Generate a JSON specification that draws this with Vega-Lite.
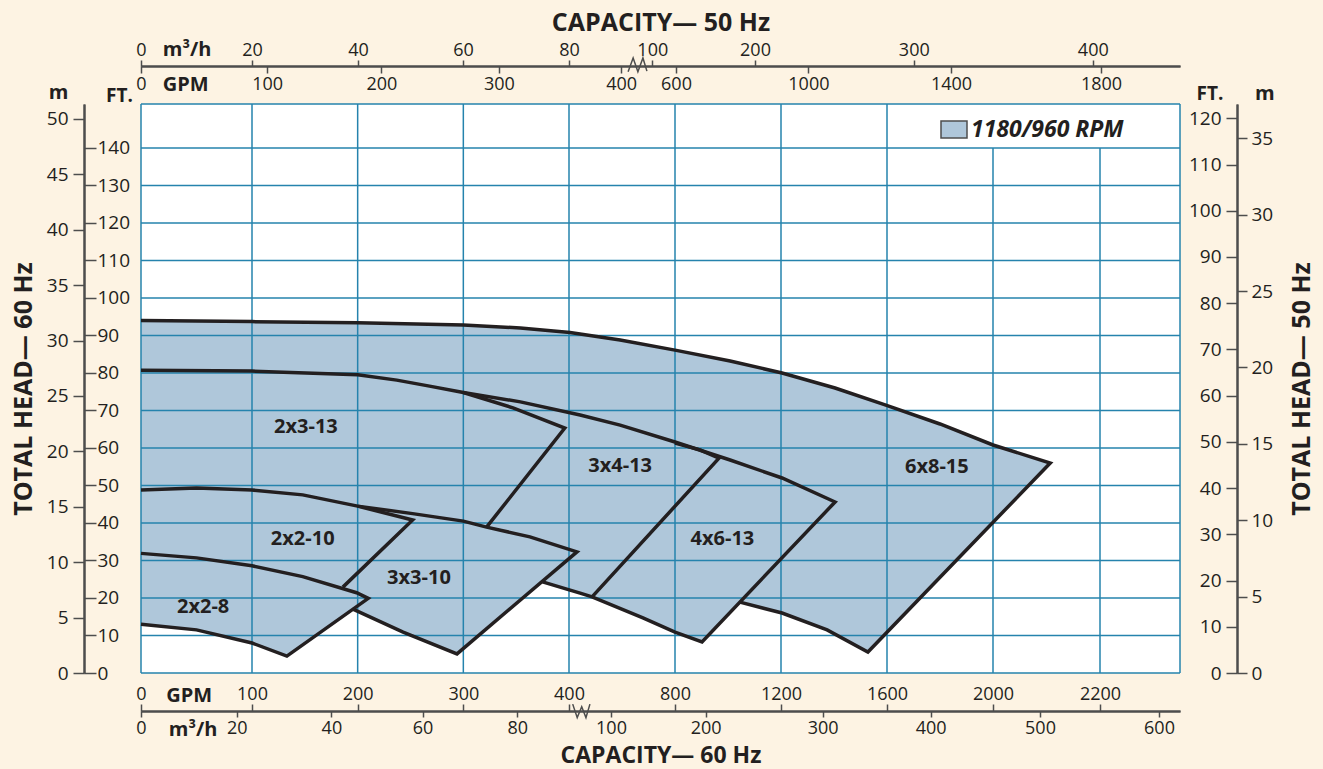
{
"$schema": "https://vega.github.io/schema/vega-lite/v6.json",
"width": 1039, "height": 569,
"autosize": {"type": "none"},
"padding": {"left": 141, "top": 104, "right": 143, "bottom": 96},
"background": "#fdf3e3",
"config": {
 "font": "Open Sans",
 "view": {"stroke": null, "fill": "white"},
 "axis": {"grid": false, "labelFlush": false, "labelOverlap": false, "labelFontSize": 18, "labelColor": "#231f20", "labelFont": "Open Sans", "domainColor": "#4d4d4d", "domainWidth": 2, "tickColor": "#4d4d4d", "tickWidth": 1.5, "titleColor": "#231f20", "titleFontWeight": "bold", "titleFontSize": 20, "titleFont": "Open Sans"}
},
"datasets": {
 "dummy": [{"a": 0, "b": 0}],
 "fills": [
  {"pump":"6x8-15","rpm":"1180/960 RPM","gpm":0,"top":94.0,"bot":62.1},
  {"pump":"6x8-15","rpm":"1180/960 RPM","gpm":100,"top":93.7,"bot":54.1},
  {"pump":"6x8-15","rpm":"1180/960 RPM","gpm":200,"top":93.4,"bot":46.5},
  {"pump":"6x8-15","rpm":"1180/960 RPM","gpm":300,"top":92.8,"bot":38.9},
  {"pump":"6x8-15","rpm":"1180/960 RPM","gpm":354,"top":92.0,"bot":34.8},
  {"pump":"6x8-15","rpm":"1180/960 RPM","gpm":404,"top":90.8,"bot":31.2},
  {"pump":"6x8-15","rpm":"1180/960 RPM","gpm":593,"top":88.8,"bot":27.6},
  {"pump":"6x8-15","rpm":"1180/960 RPM","gpm":800,"top":86.1,"bot":23.6},
  {"pump":"6x8-15","rpm":"1180/960 RPM","gpm":1008,"top":83.2,"bot":19.7},
  {"pump":"6x8-15","rpm":"1180/960 RPM","gpm":1045,"top":82.6,"bot":18.9},
  {"pump":"6x8-15","rpm":"1180/960 RPM","gpm":1204,"top":80.0,"bot":16.0},
  {"pump":"6x8-15","rpm":"1180/960 RPM","gpm":1374,"top":76.6,"bot":11.5},
  {"pump":"6x8-15","rpm":"1180/960 RPM","gpm":1404,"top":76.0,"bot":10.3},
  {"pump":"6x8-15","rpm":"1180/960 RPM","gpm":1528,"top":73.0,"bot":5.6},
  {"pump":"6x8-15","rpm":"1180/960 RPM","gpm":1593,"top":71.5,"bot":10.3},
  {"pump":"6x8-15","rpm":"1180/960 RPM","gpm":1800,"top":66.4,"bot":25.6},
  {"pump":"6x8-15","rpm":"1180/960 RPM","gpm":2000,"top":60.8,"bot":40.2},
  {"pump":"6x8-15","rpm":"1180/960 RPM","gpm":2107,"top":56.0,"bot":56.0},
  {"pump":"4x6-13","rpm":"1180/960 RPM","gpm":268,"top":76.5,"bot":43.5},
  {"pump":"4x6-13","rpm":"1180/960 RPM","gpm":300,"top":74.8,"bot":37.9},
  {"pump":"4x6-13","rpm":"1180/960 RPM","gpm":354,"top":72.3,"bot":28.2},
  {"pump":"4x6-13","rpm":"1180/960 RPM","gpm":375,"top":70.9,"bot":24.3},
  {"pump":"4x6-13","rpm":"1180/960 RPM","gpm":442,"top":68.8,"bot":21.3},
  {"pump":"4x6-13","rpm":"1180/960 RPM","gpm":487,"top":68.0,"bot":20.3},
  {"pump":"4x6-13","rpm":"1180/960 RPM","gpm":593,"top":66.1,"bot":17.2},
  {"pump":"4x6-13","rpm":"1180/960 RPM","gpm":679,"top":64.2,"bot":14.7},
  {"pump":"4x6-13","rpm":"1180/960 RPM","gpm":800,"top":61.6,"bot":10.9},
  {"pump":"4x6-13","rpm":"1180/960 RPM","gpm":902,"top":59.3,"bot":8.3},
  {"pump":"4x6-13","rpm":"1180/960 RPM","gpm":1008,"top":56.8,"bot":16.1},
  {"pump":"4x6-13","rpm":"1180/960 RPM","gpm":1204,"top":52.0,"bot":30.7},
  {"pump":"4x6-13","rpm":"1180/960 RPM","gpm":1404,"top":45.6,"bot":45.6},
  {"pump":"3x4-13","rpm":"1180/960 RPM","gpm":300,"top":74.8,"bot":38.1},
  {"pump":"3x4-13","rpm":"1180/960 RPM","gpm":354,"top":72.3,"bot":28.3},
  {"pump":"3x4-13","rpm":"1180/960 RPM","gpm":375,"top":70.9,"bot":24.3},
  {"pump":"3x4-13","rpm":"1180/960 RPM","gpm":442,"top":68.8,"bot":21.3},
  {"pump":"3x4-13","rpm":"1180/960 RPM","gpm":487,"top":68.0,"bot":20.3},
  {"pump":"3x4-13","rpm":"1180/960 RPM","gpm":593,"top":66.1,"bot":28.4},
  {"pump":"3x4-13","rpm":"1180/960 RPM","gpm":800,"top":61.3,"bot":44.5},
  {"pump":"3x4-13","rpm":"1180/960 RPM","gpm":894,"top":59.5,"bot":51.8},
  {"pump":"3x4-13","rpm":"1180/960 RPM","gpm":966,"top":57.3,"bot":57.3},
  {"pump":"2x3-13","rpm":"1180/960 RPM","gpm":0,"top":80.7,"bot":48.8},
  {"pump":"2x3-13","rpm":"1180/960 RPM","gpm":50,"top":80.6,"bot":49.3},
  {"pump":"2x3-13","rpm":"1180/960 RPM","gpm":100,"top":80.5,"bot":48.8},
  {"pump":"2x3-13","rpm":"1180/960 RPM","gpm":148,"top":80.0,"bot":47.5},
  {"pump":"2x3-13","rpm":"1180/960 RPM","gpm":200,"top":79.5,"bot":44.5},
  {"pump":"2x3-13","rpm":"1180/960 RPM","gpm":237,"top":78.1,"bot":43.1},
  {"pump":"2x3-13","rpm":"1180/960 RPM","gpm":252,"top":77.4,"bot":42.5},
  {"pump":"2x3-13","rpm":"1180/960 RPM","gpm":268,"top":76.5,"bot":41.8},
  {"pump":"2x3-13","rpm":"1180/960 RPM","gpm":300,"top":74.8,"bot":40.5},
  {"pump":"2x3-13","rpm":"1180/960 RPM","gpm":322,"top":72.8,"bot":38.9},
  {"pump":"2x3-13","rpm":"1180/960 RPM","gpm":347,"top":70.7,"bot":47.7},
  {"pump":"2x3-13","rpm":"1180/960 RPM","gpm":396,"top":65.3,"bot":65.3},
  {"pump":"3x3-10","rpm":"1180/960 RPM","gpm":174,"top":46.0,"bot":14.1},
  {"pump":"3x3-10","rpm":"1180/960 RPM","gpm":195,"top":44.9,"bot":17.1},
  {"pump":"3x3-10","rpm":"1180/960 RPM","gpm":200,"top":44.5,"bot":16.4},
  {"pump":"3x3-10","rpm":"1180/960 RPM","gpm":243,"top":42.9,"bot":10.9},
  {"pump":"3x3-10","rpm":"1180/960 RPM","gpm":252,"top":42.5,"bot":9.8},
  {"pump":"3x3-10","rpm":"1180/960 RPM","gpm":294,"top":40.8,"bot":5.1},
  {"pump":"3x3-10","rpm":"1180/960 RPM","gpm":300,"top":40.5,"bot":6.4},
  {"pump":"3x3-10","rpm":"1180/960 RPM","gpm":322,"top":38.9,"bot":11.9},
  {"pump":"3x3-10","rpm":"1180/960 RPM","gpm":363,"top":36.3,"bot":21.6},
  {"pump":"3x3-10","rpm":"1180/960 RPM","gpm":430,"top":32.3,"bot":32.3},
  {"pump":"2x2-10","rpm":"1180/960 RPM","gpm":0,"top":48.8,"bot":31.9},
  {"pump":"2x2-10","rpm":"1180/960 RPM","gpm":50,"top":49.3,"bot":30.7},
  {"pump":"2x2-10","rpm":"1180/960 RPM","gpm":100,"top":48.8,"bot":28.6},
  {"pump":"2x2-10","rpm":"1180/960 RPM","gpm":148,"top":47.5,"bot":25.7},
  {"pump":"2x2-10","rpm":"1180/960 RPM","gpm":186,"top":45.3,"bot":22.9},
  {"pump":"2x2-10","rpm":"1180/960 RPM","gpm":200,"top":44.5,"bot":26.8},
  {"pump":"2x2-10","rpm":"1180/960 RPM","gpm":252,"top":40.8,"bot":40.8},
  {"pump":"2x2-8","rpm":"1180/960 RPM","gpm":0,"top":31.9,"bot":13.0},
  {"pump":"2x2-8","rpm":"1180/960 RPM","gpm":50,"top":30.7,"bot":11.5},
  {"pump":"2x2-8","rpm":"1180/960 RPM","gpm":100,"top":28.6,"bot":8.0},
  {"pump":"2x2-8","rpm":"1180/960 RPM","gpm":133,"top":26.6,"bot":4.5},
  {"pump":"2x2-8","rpm":"1180/960 RPM","gpm":148,"top":25.7,"bot":7.6},
  {"pump":"2x2-8","rpm":"1180/960 RPM","gpm":199,"top":21.4,"bot":17.8},
  {"pump":"2x2-8","rpm":"1180/960 RPM","gpm":210,"top":19.9,"bot":19.9}
 ],
 "outlines": [
  {"seg":"6x8-15","i":0,"gpm":0,"ft":94.0},{"seg":"6x8-15","i":1,"gpm":100,"ft":93.7},{"seg":"6x8-15","i":2,"gpm":200,"ft":93.4},{"seg":"6x8-15","i":3,"gpm":300,"ft":92.8},{"seg":"6x8-15","i":4,"gpm":354,"ft":92.0},{"seg":"6x8-15","i":5,"gpm":404,"ft":90.8},{"seg":"6x8-15","i":6,"gpm":593,"ft":88.8},{"seg":"6x8-15","i":7,"gpm":800,"ft":86.1},{"seg":"6x8-15","i":8,"gpm":1008,"ft":83.2},{"seg":"6x8-15","i":9,"gpm":1204,"ft":80.0},{"seg":"6x8-15","i":10,"gpm":1404,"ft":76.0},{"seg":"6x8-15","i":11,"gpm":1593,"ft":71.5},{"seg":"6x8-15","i":12,"gpm":1800,"ft":66.4},{"seg":"6x8-15","i":13,"gpm":2000,"ft":60.8},{"seg":"6x8-15","i":14,"gpm":2107,"ft":56.0},{"seg":"6x8-15","i":15,"gpm":1528,"ft":5.6},{"seg":"6x8-15","i":16,"gpm":1374,"ft":11.5},{"seg":"6x8-15","i":17,"gpm":1204,"ft":16.0},{"seg":"6x8-15","i":18,"gpm":1045,"ft":18.9},
  {"seg":"4x6-13","i":0,"gpm":300,"ft":74.8},{"seg":"4x6-13","i":1,"gpm":354,"ft":72.3},{"seg":"4x6-13","i":2,"gpm":442,"ft":68.8},{"seg":"4x6-13","i":3,"gpm":593,"ft":66.1},{"seg":"4x6-13","i":4,"gpm":800,"ft":61.6},{"seg":"4x6-13","i":5,"gpm":1008,"ft":56.8},{"seg":"4x6-13","i":6,"gpm":1204,"ft":52.0},{"seg":"4x6-13","i":7,"gpm":1404,"ft":45.6},{"seg":"4x6-13","i":8,"gpm":902,"ft":8.3},{"seg":"4x6-13","i":9,"gpm":800,"ft":10.9},{"seg":"4x6-13","i":10,"gpm":679,"ft":14.7},{"seg":"4x6-13","i":11,"gpm":487,"ft":20.3},{"seg":"4x6-13","i":12,"gpm":442,"ft":21.3},{"seg":"4x6-13","i":13,"gpm":375,"ft":24.3},
  {"seg":"3x4-13","i":0,"gpm":800,"ft":61.3},{"seg":"3x4-13","i":1,"gpm":894,"ft":59.5},{"seg":"3x4-13","i":2,"gpm":966,"ft":57.3},{"seg":"3x4-13","i":3,"gpm":487,"ft":20.3},
  {"seg":"2x3-13","i":0,"gpm":0,"ft":80.7},{"seg":"2x3-13","i":1,"gpm":100,"ft":80.5},{"seg":"2x3-13","i":2,"gpm":200,"ft":79.5},{"seg":"2x3-13","i":3,"gpm":237,"ft":78.1},{"seg":"2x3-13","i":4,"gpm":268,"ft":76.5},{"seg":"2x3-13","i":5,"gpm":300,"ft":74.8},{"seg":"2x3-13","i":6,"gpm":347,"ft":70.7},{"seg":"2x3-13","i":7,"gpm":396,"ft":65.3},{"seg":"2x3-13","i":8,"gpm":322,"ft":38.9},
  {"seg":"3x3-10","i":0,"gpm":0,"ft":48.8},{"seg":"3x3-10","i":1,"gpm":50,"ft":49.3},{"seg":"3x3-10","i":2,"gpm":100,"ft":48.8},{"seg":"3x3-10","i":3,"gpm":148,"ft":47.5},{"seg":"3x3-10","i":4,"gpm":200,"ft":44.5},{"seg":"3x3-10","i":5,"gpm":252,"ft":42.5},{"seg":"3x3-10","i":6,"gpm":300,"ft":40.5},{"seg":"3x3-10","i":7,"gpm":322,"ft":38.9},{"seg":"3x3-10","i":8,"gpm":363,"ft":36.3},{"seg":"3x3-10","i":9,"gpm":430,"ft":32.3},{"seg":"3x3-10","i":10,"gpm":294,"ft":5.1},{"seg":"3x3-10","i":11,"gpm":243,"ft":10.9},{"seg":"3x3-10","i":12,"gpm":195,"ft":17.1},
  {"seg":"2x2-10","i":0,"gpm":200,"ft":44.5},{"seg":"2x2-10","i":1,"gpm":252,"ft":40.8},{"seg":"2x2-10","i":2,"gpm":186,"ft":22.9},
  {"seg":"2x2-8","i":0,"gpm":0,"ft":31.9},{"seg":"2x2-8","i":1,"gpm":50,"ft":30.7},{"seg":"2x2-8","i":2,"gpm":100,"ft":28.6},{"seg":"2x2-8","i":3,"gpm":148,"ft":25.7},{"seg":"2x2-8","i":4,"gpm":199,"ft":21.4},{"seg":"2x2-8","i":5,"gpm":210,"ft":19.9},{"seg":"2x2-8","i":6,"gpm":133,"ft":4.5},{"seg":"2x2-8","i":7,"gpm":100,"ft":8.0},{"seg":"2x2-8","i":8,"gpm":50,"ft":11.5},{"seg":"2x2-8","i":9,"gpm":0,"ft":13.0}
 ],
 "zigzag": [
  {"seg":"top","i":0,"gpm":623,"ft":160.3},{"seg":"top","i":1,"gpm":642,"ft":164.0},{"seg":"top","i":2,"gpm":660,"ft":160.3},{"seg":"top","i":3,"gpm":679,"ft":164.0},{"seg":"top","i":4,"gpm":694,"ft":160.5},
  {"seg":"bottom","i":0,"gpm":414,"ft":-8.3},{"seg":"bottom","i":1,"gpm":431,"ft":-11.9},{"seg":"bottom","i":2,"gpm":448,"ft":-9.0},{"seg":"bottom","i":3,"gpm":464,"ft":-11.9},{"seg":"bottom","i":4,"gpm":479,"ft":-8.3}
 ],
 "labels": [
  {"name":"2x3-13","gpm":151,"ft":65.7},
  {"name":"3x4-13","gpm":593,"ft":55.3},
  {"name":"6x8-15","gpm":1788,"ft":55.0},
  {"name":"2x2-10","gpm":148,"ft":35.7},
  {"name":"4x6-13","gpm":979,"ft":35.7},
  {"name":"3x3-10","gpm":258,"ft":25.3},
  {"name":"2x2-8","gpm":56,"ft":17.7}
 ],
 "grid": [
  {"x1":100,"x2":100,"y1":0,"y2":151.73},{"x1":200,"x2":200,"y1":0,"y2":151.73},{"x1":300,"x2":300,"y1":0,"y2":151.73},{"x1":400,"x2":400,"y1":0,"y2":151.73},{"x1":800,"x2":800,"y1":0,"y2":151.73},{"x1":1200,"x2":1200,"y1":0,"y2":151.73},{"x1":1600,"x2":1600,"y1":0,"y2":151.73},{"x1":2000,"x2":2000,"y1":0,"y2":140},{"x1":2200,"x2":2200,"y1":0,"y2":140},
  {"x1":0,"x2":2350,"y1":10,"y2":10},{"x1":0,"x2":2350,"y1":20,"y2":20},{"x1":0,"x2":2350,"y1":30,"y2":30},{"x1":0,"x2":2350,"y1":40,"y2":40},{"x1":0,"x2":2350,"y1":50,"y2":50},{"x1":0,"x2":2350,"y1":60,"y2":60},{"x1":0,"x2":2350,"y1":70,"y2":70},{"x1":0,"x2":2350,"y1":80,"y2":80},{"x1":0,"x2":2350,"y1":90,"y2":90},{"x1":0,"x2":2350,"y1":100,"y2":100},{"x1":0,"x2":2350,"y1":110,"y2":110},{"x1":0,"x2":2350,"y1":120,"y2":120},{"x1":0,"x2":2350,"y1":130,"y2":130},{"x1":0,"x2":2350,"y1":140,"y2":140},
  {"x1":0,"x2":0,"y1":0,"y2":151.73},{"x1":2350,"x2":2350,"y1":0,"y2":151.73},{"x1":0,"x2":2350,"y1":0,"y2":0},{"x1":0,"x2":2350,"y1":151.73,"y2":151.73}
 ]
},
"layer": [
 {
  "layer": [
   {
    "data": {"name": "fills"},
    "mark": {"type": "area", "opacity": 1, "fillOpacity": 1, "interpolate": "linear"},
    "encoding": {
     "x": {"field": "gpm", "type": "quantitative", "scale": {"domain": [0,100,400,2000,2200,2350], "range": [0,111,428,852,959,1039], "nice": false, "zero": false}, "axis": null},
     "y": {"field": "top", "type": "quantitative", "scale": {"domain": [0,151.73], "nice": false, "zero": false}, "axis": null},
     "y2": {"field": "bot"},
     "fill": {"field": "rpm", "type": "nominal", "scale": {"range": ["#afc7da"]},
       "legend": {"title": null, "orient": "none", "legendX": 799, "legendY": 11.5, "padding": 0,
         "symbolType": "M-1,-0.65L1,-0.65L1,0.65L-1,0.65Z", "symbolSize": 676, "symbolStrokeColor": "#4d4d4d", "symbolStrokeWidth": 1.5, "symbolOpacity": 1,
         "labelFontSize": 23, "labelFontWeight": "bold", "labelFontStyle": "italic", "labelColor": "#231f20", "labelOffset": 3, "labelFont": "Open Sans"}},
     "detail": {"field": "pump", "type": "nominal"}
    }
   },
   {
    "data": {"name": "grid"},
    "mark": {"type": "rule", "color": "#2583ad", "strokeWidth": 1.5},
    "encoding": {
     "x": {"field": "x1", "type": "quantitative", "scale": {"domain": [0,100,400,2000,2200,2350], "range": [0,111,428,852,959,1039], "nice": false, "zero": false}, "axis": null},
     "x2": {"field": "x2"},
     "y": {"field": "y1", "type": "quantitative", "scale": {"domain": [0,151.73], "nice": false, "zero": false}, "axis": null},
     "y2": {"field": "y2"}
    }
   },
   {
    "data": {"name": "outlines"},
    "mark": {"type": "line", "color": "#231f20", "strokeWidth": 3.5, "strokeJoin": "miter", "strokeCap": "butt"},
    "encoding": {
     "x": {"field": "gpm", "type": "quantitative", "scale": {"domain": [0,100,400,2000,2200,2350], "range": [0,111,428,852,959,1039], "nice": false, "zero": false}, "axis": null},
     "y": {"field": "ft", "type": "quantitative", "scale": {"domain": [0,151.73], "nice": false, "zero": false}, "axis": null},
     "detail": {"field": "seg", "type": "nominal"},
     "order": {"field": "i", "type": "quantitative"}
    }
   },
   {
    "data": {"name": "zigzag"},
    "mark": {"type": "line", "color": "#4d4d4d", "strokeWidth": 1.5, "strokeJoin": "miter"},
    "encoding": {
     "x": {"field": "gpm", "type": "quantitative", "scale": {"domain": [0,100,400,2000,2200,2350], "range": [0,111,428,852,959,1039], "nice": false, "zero": false}, "axis": null},
     "y": {"field": "ft", "type": "quantitative", "scale": {"domain": [0,151.73], "nice": false, "zero": false}, "axis": null},
     "detail": {"field": "seg", "type": "nominal"},
     "order": {"field": "i", "type": "quantitative"}
    }
   },
   {
    "data": {"name": "labels"},
    "mark": {"type": "text", "font": "Open Sans", "fontWeight": "bold", "fontSize": 20, "color": "#231f20", "align": "center", "baseline": "middle"},
    "encoding": {
     "x": {"field": "gpm", "type": "quantitative", "scale": {"domain": [0,100,400,2000,2200,2350], "range": [0,111,428,852,959,1039], "nice": false, "zero": false}, "axis": null},
     "y": {"field": "ft", "type": "quantitative", "scale": {"domain": [0,151.73], "nice": false, "zero": false}, "axis": null},
     "text": {"field": "name"}
    }
   }
  ]
 },
 {
  "data": {"name": "dummy"},
  "mark": {"type": "point", "opacity": 0},
  "encoding": {
   "x": {"field": "a", "type": "quantitative",
     "scale": {"domain": [0,100,400,2000,2200,2350], "range": [0,111,428,852,959,1039], "nice": false, "zero": false},
     "axis": {"orient": "top", "offset": -607, "values": [0,100,200,300,400,800,1200,1600,2000,2200], "format": "d", "tickSize": 7, "labelPadding": 1,
       "title": "GPM", "titleX": 24.7, "titleY": -10, "titleAlign": "left", "titleBaseline": "alphabetic", "titleAngle": 0, "titleFontSize": 20}},
   "y": {"field": "b", "type": "quantitative",
     "scale": {"domain": [0,151.73], "nice": false, "zero": false},
     "axis": {"orient": "right", "offset": -1096, "values": [0,10,20,30,40,50,60,70,80,90,100,110,120,130,140], "format": "d", "tickSize": 12, "labelPadding": 1, "labelFontSize": 19,
       "title": "FT.", "titleX": 35, "titleY": -3, "titleAlign": "center", "titleBaseline": "alphabetic", "titleAngle": 0, "titleFontSize": 19}}
  }
 },
 {
  "data": {"name": "dummy"},
  "mark": {"type": "point", "opacity": 0},
  "encoding": {
   "x": {"field": "a", "type": "quantitative",
     "scale": {"domain": [0,20,40,60,80,100,200,300,400,448.7], "range": [0,111,217,322,428,511.3,614,772.8,951.8,1039], "nice": false, "zero": false},
     "axis": {"orient": "top", "offset": 38, "values": [0,20,40,60,80,100,200,300,400], "format": "d", "tickSize": 6, "labelPadding": 1,
       "title": "m³/h", "titleX": 21.3, "titleY": -11, "titleAlign": "left", "titleBaseline": "alphabetic", "titleAngle": 0, "titleFontSize": 20}},
   "y": {"field": "b", "type": "quantitative",
     "scale": {"domain": [0,51.35], "nice": false, "zero": false},
     "axis": {"orient": "left", "offset": 57, "values": [0,5,10,15,20,25,30,35,40,45,50], "format": "d", "tickSize": 11, "labelPadding": 5, "labelFontSize": 19,
       "title": "m", "titleX": -26, "titleY": -6, "titleAlign": "center", "titleBaseline": "alphabetic", "titleAngle": 0, "titleFontSize": 20}}
  }
 },
 {
  "data": {"name": "dummy"},
  "mark": {"type": "point", "opacity": 0},
  "encoding": {
   "x": {"field": "a", "type": "quantitative",
     "scale": {"domain": [0,100,200,300,400,600,1000,1400,1800,2010.7], "range": [0,126.2,240.4,357.9,480.2,535,667.4,810,960,1039], "nice": false, "zero": false},
     "axis": {"orient": "bottom", "offset": -607, "values": [0,100,200,300,400,600,1000,1400,1800], "format": "d", "tickSize": 7, "labelPadding": 2,
       "title": "GPM", "titleX": 21.3, "titleY": 24.7, "titleAlign": "left", "titleBaseline": "alphabetic", "titleAngle": 0, "titleFontSize": 20}},
   "y": {"field": "b", "type": "quantitative",
     "scale": {"domain": [0,123.1], "nice": false, "zero": false},
     "axis": {"orient": "left", "offset": -1096, "values": [0,10,20,30,40,50,60,70,80,90,100,110,120], "format": "d", "tickSize": 11, "labelPadding": 5, "labelFontSize": 19,
       "title": "FT.", "titleX": -27.5, "titleY": -4.7, "titleAlign": "center", "titleBaseline": "alphabetic", "titleAngle": 0, "titleFontSize": 19}}
  }
 },
 {
  "data": {"name": "dummy"},
  "mark": {"type": "point", "opacity": 0},
  "encoding": {
   "x": {"field": "a", "type": "quantitative",
     "scale": {"domain": [0,20,40,60,80,100,200,300,400,500,600,617.6], "range": [0,95.8,190.4,281.6,376.2,470,564.7,681.6,789.7,899,1018,1039], "nice": false, "zero": false},
     "axis": {"orient": "bottom", "offset": 38, "values": [0,20,40,60,80,100,200,300,400,500,600], "format": "d", "tickSize": 6, "labelPadding": 2,
       "title": "m³/h", "titleX": 27.3, "titleY": 24, "titleAlign": "left", "titleBaseline": "alphabetic", "titleAngle": 0, "titleFontSize": 20}},
   "y": {"field": "b", "type": "quantitative",
     "scale": {"domain": [0,37.25], "nice": false, "zero": false},
     "axis": {"orient": "right", "offset": 57, "values": [0,5,10,15,20,25,30,35], "format": "d", "tickSize": 10, "labelPadding": 4, "labelFontSize": 19,
       "title": "m", "titleX": 27.3, "titleY": -5, "titleAlign": "center", "titleBaseline": "alphabetic", "titleAngle": 0, "titleFontSize": 20}}
  }
 },
 {
  "data": {"name": "dummy"},
  "mark": {"type": "point", "opacity": 0},
  "encoding": {
   "x": {"field": "a", "type": "quantitative", "scale": {"domain": [0,1]},
     "axis": {"orient": "top", "offset": 0, "domain": false, "ticks": false, "labels": false,
       "title": "CAPACITY— 50 Hz", "titleX": 519.5, "titleY": -74, "titleAlign": "center", "titleBaseline": "alphabetic", "titleAngle": 0, "titleFontSize": 25}},
   "y": {"field": "b", "type": "quantitative", "scale": {"domain": [0,1]},
     "axis": {"orient": "left", "offset": 0, "domain": false, "ticks": false, "labels": false,
       "title": "TOTAL HEAD— 60 Hz", "titleX": -110, "titleY": 284.5, "titleAlign": "center", "titleBaseline": "alphabetic", "titleAngle": -90, "titleFontSize": 25}}
  }
 },
 {
  "data": {"name": "dummy"},
  "mark": {"type": "point", "opacity": 0},
  "encoding": {
   "x": {"field": "a", "type": "quantitative", "scale": {"domain": [0,1]},
     "axis": {"orient": "bottom", "offset": 0, "domain": false, "ticks": false, "labels": false,
       "title": "CAPACITY— 60 Hz", "titleX": 519.5, "titleY": 89, "titleAlign": "center", "titleBaseline": "alphabetic", "titleAngle": 0, "titleFontSize": 23}},
   "y": {"field": "b", "type": "quantitative", "scale": {"domain": [0,1]},
     "axis": {"orient": "right", "offset": 0, "domain": false, "ticks": false, "labels": false,
       "title": "TOTAL HEAD— 50 Hz", "titleX": 129, "titleY": 284.5, "titleAlign": "center", "titleBaseline": "alphabetic", "titleAngle": -90, "titleFontSize": 25}}
  }
 }
],
"resolve": {"scale": {"x": "independent", "y": "independent"}, "axis": {"x": "independent", "y": "independent"}}
}
